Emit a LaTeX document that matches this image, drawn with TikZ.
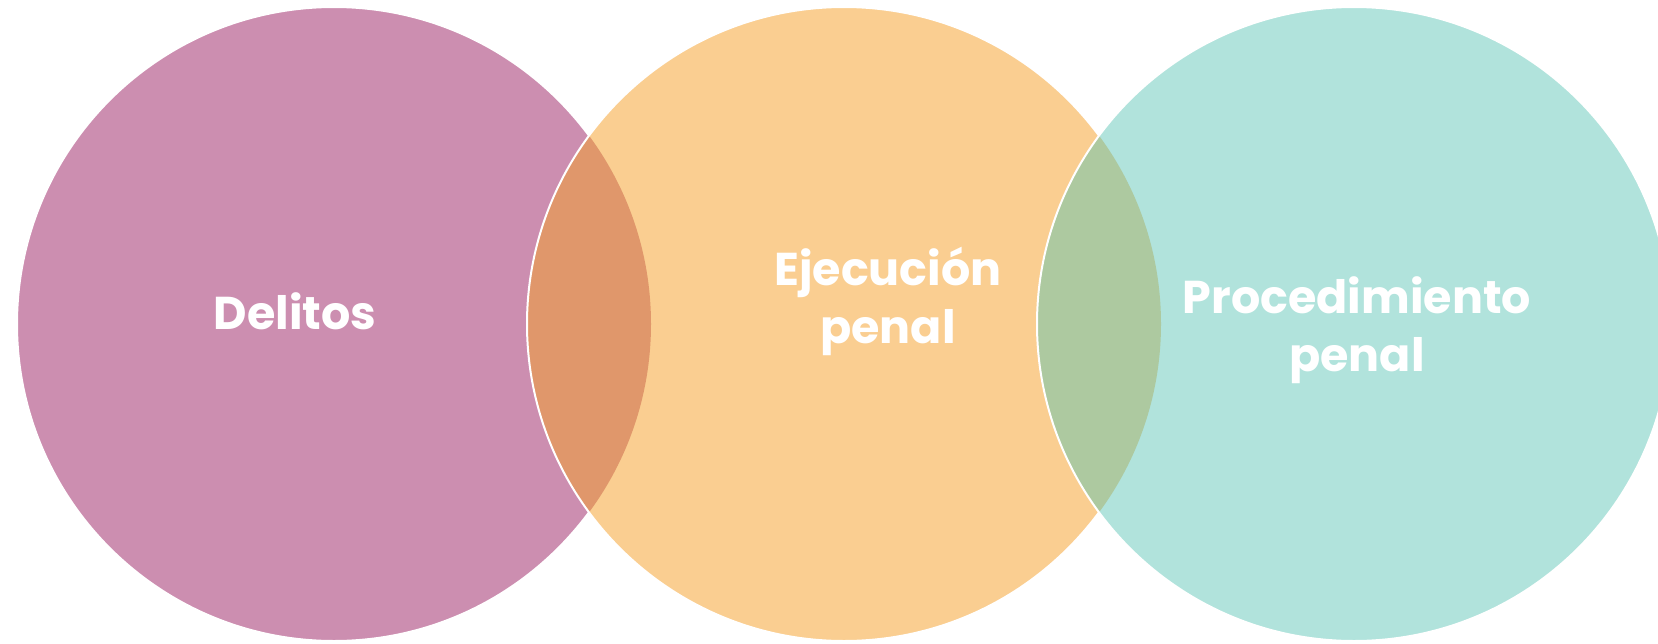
\documentclass[tikz,border=0pt]{standalone}
\usepackage{fontspec}
\setmainfont{Poppins}
\definecolor{cpink}{HTML}{CC8EB0}
\definecolor{corange}{HTML}{FACE91}
\definecolor{cteal}{HTML}{B1E3DC}
\definecolor{clensa}{HTML}{E0976B}
\definecolor{clensb}{HTML}{ADC9A0}
\begin{document}
\begin{tikzpicture}[x=1pt,y=-1pt,
  disc/.style={circle,inner sep=0pt,minimum size=634pt},
  label/.style={text=white,font=\fontsize{46}{58}\selectfont\bfseries,align=center,inner sep=0pt}]
\useasboundingbox (0,0) rectangle (1658,643);
\clip (0,0) rectangle (1658,643);
% circle 1
\node[disc,fill=cpink,draw=white,line width=2pt] (c1) at (334,324) {};
% circle 2
\node[disc,fill=corange] (c2) at (844,324) {};
\begin{scope}
  \clip (334,324) circle[radius=317pt];
  \fill[clensa] (844,324) circle[radius=317pt];
\end{scope}
\draw[white,line width=2pt] (844,324) circle[radius=317pt];
% circle 3
\node[disc,fill=cteal] (c3) at (1354,324) {};
\begin{scope}
  \clip (844,324) circle[radius=317pt];
  \fill[clensb] (1354,324) circle[radius=317pt];
\end{scope}
\draw[white,line width=2pt] (1354,324) circle[radius=317pt];
% labels
\node[label,anchor=base] (t1) at (295,329) {Delitos};
\node[label,anchor=base] (t2) at (888,343) {Ejecución\\penal};
\node[label,anchor=base] (t3) at (1357,371) {Procedimiento\\penal};
\end{tikzpicture}
\end{document}
